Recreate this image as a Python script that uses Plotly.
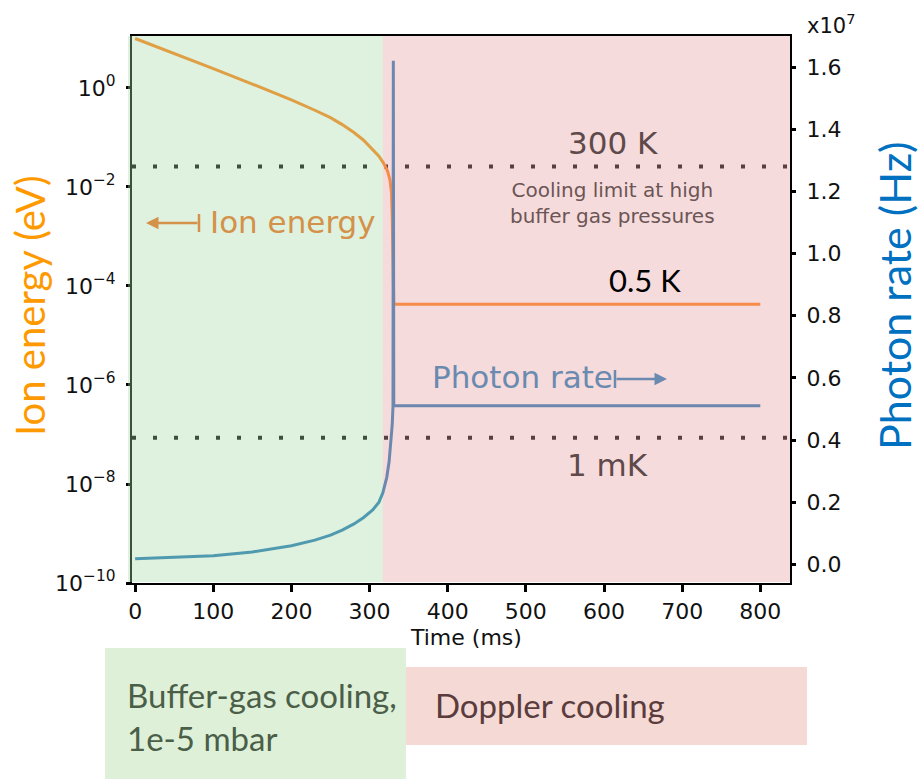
import plotly.graph_objects as go

# ---- data -------------------------------------------------------------
# Ion energy (eV) during buffer-gas cooling followed by Doppler cooling
t_energy = [0, 50, 100, 150, 200, 230, 250, 265, 280, 292, 303, 312, 318, 323,
            326, 328, 329, 330, 331, 800]
ion_energy = [10, 5.0, 2.45, 1.20, 0.575, 0.355, 0.251, 0.182, 0.126, 0.089,
              0.060, 0.042, 0.030, 0.021, 0.0141, 0.0079, 0.0025, 3.2e-4,
              4.3e-5, 4.3e-5]

# Photon scattering rate (Hz)
t_photon = [0, 50, 100, 150, 200, 230, 250, 265, 280, 292, 304, 312, 317, 322,
            325, 327, 329, 330, 330.4, 331, 800]
photon_rate = [1.8e5, 2.2e5, 2.8e5, 4.0e5, 6.0e5, 7.8e5, 9.4e5, 1.1e6, 1.3e6,
               1.5e6, 1.75e6, 2.0e6, 2.3e6, 2.8e6, 3.3e6, 3.9e6, 4.5e6, 5.1e6,
               1.62e7, 5.1e6, 5.1e6]

# Thermal reference energies (eV)
ref_names = ["300 K", "1 mK"]
ref_energy = [0.0259, 8.6e-8]

# Phase boundary between the two cooling stages (ms)
phase_boundary_ms = 317

# Axis ticks
x_ticks = [0, 100, 200, 300, 400, 500, 600, 700, 800]
y_exponents = [-10, -8, -6, -4, -2, 0]
y_ticks = [10.0 ** e for e in y_exponents]
y_ticktext = ["10<sup>\u2212%d</sup>" % -e if e < 0 else "10<sup>0</sup>" for e in y_exponents]
y2_ticks = [0, 2e6, 4e6, 6e6, 8e6, 1.0e7, 1.2e7, 1.4e7, 1.6e7]
y2_ticktext = ["0.0", "0.2", "0.4", "0.6", "0.8", "1.0", "1.2", "1.4", "1.6"]

X_RANGE = [-4, 838]

ORANGE = "#ff7f0e"
BLUE = "#1f77b4"
TICK_FONT = dict(family="DejaVu Sans", size=22, color="#111111")

fig = go.Figure()

# reference temperature levels (dotted)
for name, e in zip(ref_names, ref_energy):
    fig.add_trace(go.Scatter(
        x=X_RANGE, y=[e, e], mode="lines", name=name,
        line=dict(color="black", width=4, dash="4px,17px"),
        hoverinfo="skip", showlegend=False, yaxis="y"))

fig.add_trace(go.Scatter(
    x=t_energy, y=ion_energy, mode="lines", name="Ion energy",
    line=dict(color=ORANGE, width=3), showlegend=False, yaxis="y"))

fig.add_trace(go.Scatter(
    x=t_photon, y=photon_rate, mode="lines", name="Photon rate",
    line=dict(color=BLUE, width=3), showlegend=False, yaxis="y2"))

# translucent phase backgrounds laid over the plot
fig.add_shape(type="rect", xref="paper", yref="paper",
              x0=-0.006, x1=(phase_boundary_ms - X_RANGE[0]) / (X_RANGE[1] - X_RANGE[0]),
              y0=0.002, y1=1.0, layer="above", line_width=0,
              fillcolor="rgba(167,216,167,0.365)")
fig.add_shape(type="rect", xref="paper", yref="paper",
              x0=(phase_boundary_ms - X_RANGE[0]) / (X_RANGE[1] - X_RANGE[0]), x1=1.0,
              y0=0.002, y1=1.0, layer="above", line_width=0,
              fillcolor="rgba(231,162,164,0.39)")

# phase legend boxes below the axes
fig.add_shape(type="rect", xref="paper", yref="paper",
              x0=(105 - 132) / 658, x1=(406 - 132) / 658,
              y0=(583 - 779) / 547, y1=(583 - 648) / 547,
              layer="below", line_width=0, fillcolor="#def0d8")
fig.add_shape(type="rect", xref="paper", yref="paper",
              x0=(406 - 132) / 658, x1=(807 - 132) / 658,
              y0=(583 - 745) / 547, y1=(583 - 667) / 547,
              layer="below", line_width=0, fillcolor="#f5d9d5")

ann = []


def px(x):
    return (x - 132) / 658


def py(y):
    return (583 - y) / 547


def text(x, y, s, size, color, family="DejaVu Sans", xanchor="center", angle=0):
    ann.append(dict(x=px(x), y=py(y), xref="paper", yref="paper", text=s,
                    showarrow=False, xanchor=xanchor, yanchor="middle",
                    textangle=angle,
                    font=dict(family=family, size=size, color=color)))


text(613, 143, "300 K", 31, "#5e4a4a")
text(612, 203, "Cooling limit at high<br>buffer gas pressures", 20, "#6b5555")
text(607, 465, "1 mK", 31, "#5e4a4a")
text(645, 280, "0.5 K", 31, "#000000", family="Lato")
text(293, 222, "Ion energy", 31, "#d4914a")
text(522, 377, "Photon rate", 31, "#6a8ab0")

# direction arrows pointing to each curve's axis
ann.append(dict(x=px(146), y=py(223), xref="paper", yref="paper", text="",
                showarrow=True, ax=53, ay=0, arrowhead=2, arrowsize=1,
                arrowwidth=2.5, arrowcolor="#d4914a"))
ann.append(dict(x=px(667), y=py(379), xref="paper", yref="paper", text="",
                showarrow=True, ax=-52, ay=0, arrowhead=2, arrowsize=1,
                arrowwidth=2.5, arrowcolor="#6a8ab0"))
fig.add_shape(type="line", xref="paper", yref="paper", x0=px(199), x1=px(199),
              y0=py(214), y1=py(232), line=dict(color="#d4914a", width=2.5))
fig.add_shape(type="line", xref="paper", yref="paper", x0=px(615), x1=px(615),
              y0=py(370), y1=py(388), line=dict(color="#6a8ab0", width=2.5))

# axis titles
text(30, 306, "Ion energy (eV)", 40, "#ff9900", family="Lato", angle=-90)
text(894, 295, "Photon rate (Hz)", 43, "#0070c0", family="Lato", angle=-90)
text(466, 637, "Time (ms)", 22, "#111111")
text(831, 24, "x10<sup>7</sup>", 21, "#111111")

# phase legend labels
ann.append(dict(x=px(125), y=py(716), xref="paper", yref="paper",
                text="Buffer-gas cooling,<br>1e-5 mbar", showarrow=False,
                xanchor="left", yanchor="middle", align="left",
                font=dict(family="Lato", size=33, color="#4a5e48")))
text(433, 705, "Doppler cooling", 33, "#5a3c3c", family="Lato", xanchor="left")

fig.update_layout(
    width=921, height=779,
    margin=dict(l=132, r=131, t=36, b=196),
    paper_bgcolor="white", plot_bgcolor="white",
    showlegend=False,
    annotations=ann,
    xaxis=dict(range=X_RANGE, tickvals=x_ticks, ticks="outside", ticklen=7,
               tickwidth=3, tickcolor="black", showline=True, linecolor="black",
               linewidth=2, mirror=True, showgrid=False, zeroline=False,
               tickfont=TICK_FONT, ticklabelstandoff=1),
    yaxis=dict(type="log", range=[-10, 1.05], tickvals=y_ticks,
               ticktext=y_ticktext, ticks="outside", ticklen=4, tickwidth=3,
               tickcolor="black", showline=True, linecolor="black", linewidth=2,
               showgrid=False, zeroline=False, tickfont=TICK_FONT,
               ticklabelstandoff=6),
    yaxis2=dict(overlaying="y", side="right", range=[-0.06e7, 1.70e7],
                tickvals=y2_ticks, ticktext=y2_ticktext, ticks="outside",
                ticklen=4, tickwidth=3, tickcolor="black", showline=True,
                linecolor="black", linewidth=2, showgrid=False, zeroline=False,
                tickfont=TICK_FONT, ticklabelstandoff=6),
)

fig.write_html("out.html")
